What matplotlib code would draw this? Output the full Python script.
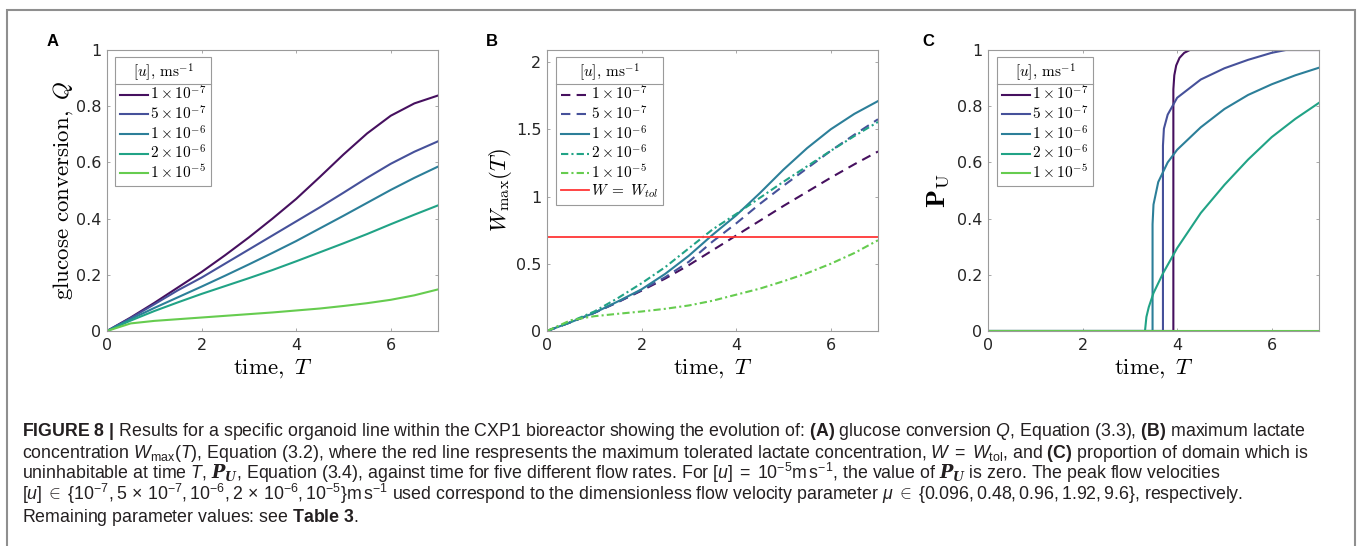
import matplotlib
matplotlib.use('Agg')
import matplotlib.pyplot as plt
from matplotlib.font_manager import FontProperties
from matplotlib.lines import Line2D
from matplotlib.patches import Rectangle
from matplotlib.ticker import FuncFormatter

# ---- data ----
time = [0, 0.5, 1, 1.5, 2, 2.5, 3, 3.5, 4, 4.5, 5, 5.5, 6, 6.5, 7]
flow_labels = [r'$1\times10^{-7}$', r'$5\times10^{-7}$', r'$1\times10^{-6}$',
               r'$2\times10^{-6}$', r'$1\times10^{-5}$']

# (A) glucose conversion Q
q_1e7 = [0, 0.048, 0.100, 0.155, 0.21, 0.27, 0.333, 0.40, 0.47, 0.548, 0.628, 0.703, 0.766, 0.81, 0.838]
q_5e7 = [0, 0.046, 0.095, 0.145, 0.19, 0.24, 0.29, 0.34, 0.39, 0.44, 0.492, 0.545, 0.595, 0.638, 0.675]
q_1e6 = [0, 0.042, 0.082, 0.12, 0.158, 0.197, 0.237, 0.278, 0.32, 0.365, 0.41, 0.456, 0.502, 0.545, 0.585]
q_2e6 = [0, 0.037, 0.071, 0.102, 0.132, 0.16, 0.188, 0.217, 0.248, 0.28, 0.312, 0.345, 0.38, 0.414, 0.447]
q_1e5 = [0, 0.027, 0.036, 0.042, 0.048, 0.054, 0.06, 0.066, 0.073, 0.08, 0.089, 0.099, 0.111, 0.127, 0.148]

# (B) maximum lactate concentration W_max
w_1e7 = [0, 0.065, 0.135, 0.215, 0.30, 0.39, 0.49, 0.60, 0.71, 0.82, 0.93, 1.035, 1.14, 1.24, 1.335]
w_5e7 = [0, 0.065, 0.135, 0.215, 0.305, 0.40, 0.515, 0.665, 0.80, 0.945, 1.08, 1.21, 1.34, 1.46, 1.575]
w_1e6 = [0, 0.065, 0.135, 0.22, 0.31, 0.425, 0.56, 0.715, 0.86, 1.025, 1.20, 1.36, 1.50, 1.615, 1.71]
w_2e6 = [0, 0.07, 0.145, 0.245, 0.355, 0.475, 0.615, 0.755, 0.87, 0.99, 1.11, 1.225, 1.34, 1.45, 1.555]
w_1e5 = [0, 0.08, 0.11, 0.128, 0.145, 0.165, 0.19, 0.225, 0.27, 0.315, 0.37, 0.43, 0.50, 0.58, 0.675]
w_tol = 0.7

# (C) proportion uninhabitable P_U (own time samples, steep onsets)
tc_1e7 = [0, 3.92, 3.92, 3.94, 3.98, 4.05, 4.15, 4.27, 7]
pu_1e7 = [0, 0, 0.86, 0.91, 0.945, 0.972, 0.99, 1, 1]
tc_5e7 = [0, 3.70, 3.70, 3.72, 3.8, 4.0, 4.5, 5.0, 5.5, 6.0, 6.3, 7]
pu_5e7 = [0, 0, 0.66, 0.72, 0.77, 0.83, 0.895, 0.935, 0.965, 0.99, 1, 1]
tc_1e6 = [0, 3.48, 3.48, 3.5, 3.6, 3.8, 4.0, 4.5, 5.0, 5.5, 6.0, 6.5, 7]
pu_1e6 = [0, 0, 0.38, 0.45, 0.53, 0.6, 0.645, 0.725, 0.79, 0.84, 0.878, 0.91, 0.937]
tc_2e6 = [0, 3.32, 3.35, 3.4, 3.5, 3.7, 4.0, 4.5, 5.0, 5.5, 6.0, 6.5, 7]
pu_2e6 = [0, 0, 0.05, 0.085, 0.135, 0.205, 0.295, 0.42, 0.52, 0.61, 0.69, 0.755, 0.812]
tc_1e5 = [0, 7]
pu_1e5 = [0, 0]

colors = ['#46105f', '#46519a', '#2c7f99', '#21a386', '#66cc4f']

caption = [
    r'$\mathbf{FIGURE\ 8\ |}$ Results for a specific organoid line within the CXP1 bioreactor showing the evolution of: '
    r'$\mathbf{(A)}$ glucose conversion $Q$, Equation (3.3), $\mathbf{(B)}$ maximum lactate',
    r'concentration $W_{\mathrm{max}}(T)$, Equation (3.2), where the red line respresents the maximum tolerated lactate '
    r'concentration, $W\;=\;W_{\mathrm{tol}}$, and $\mathbf{(C)}$ proportion of domain which is',
    r'uninhabitable at time $T$, $\mathbfit{P}_{\mathbfit{U}}$, Equation (3.4), against time for five different flow rates. '
    r'For $[u]\;=\;10^{-5}\mathrm{m\,s}^{-1}$, the value of $\mathbfit{P}_{\mathbfit{U}}$ is zero. The peak flow velocities',
    r'$[u]\;\in\;\{10^{-7}, 5\,\times\,10^{-7}, 10^{-6}, 2\,\times\,10^{-6}, 10^{-5}\}\mathrm{m\,s}^{-1}$ used correspond to the '
    r'dimensionless flow velocity parameter $\mu\;\in\;\{0.096, 0.48, 0.96, 1.92, 9.6\}$, respectively.',
    r'Remaining parameter values: see $\mathbf{Table\ 3}$.',
]

# ---- style ----
plt.rcParams['mathtext.fontset'] = 'cm'
plt.rcParams['mathtext.rm'] = 'Liberation Sans'
plt.rcParams['mathtext.it'] = 'Liberation Sans:italic'
plt.rcParams['mathtext.bf'] = 'Liberation Sans:bold'
plt.rcParams['mathtext.bfit'] = 'DejaVu Serif:italic:bold'

W, H = 1358, 546
fig = plt.figure(figsize=(W / 100, H / 100), dpi=100)

spine_col = '#9a9a9a'
tick_col = '#262626'
fmt = FuncFormatter(lambda v, p: '%g' % v)


def make_axes(left_px):
    ax = fig.add_axes([left_px / W, (H - 331) / H, 331 / W, 281 / H])
    for s in ax.spines.values():
        s.set_color(spine_col)
        s.set_linewidth(0.8)
    ax.tick_params(direction='in', length=2.5, width=0.6, color=spine_col,
                   top=True, right=True, labelsize=11.5, labelcolor=tick_col)
    ax.tick_params(axis='x', pad=5)
    ax.tick_params(axis='y', pad=4)
    ax.set_xlim(0, 7)
    ax.set_xticks([0, 2, 4, 6])
    ax.xaxis.set_major_formatter(fmt)
    ax.yaxis.set_major_formatter(fmt)
    ax.set_xlabel(r'$\mathrm{time},\ T$', fontsize=16.5, va='center')
    ax.xaxis.set_label_coords(0.5, -37 / 281)
    return ax


def make_legend(ax, dx_px):
    leg = ax.legend(loc='upper left', bbox_to_anchor=(dx_px / 331, 1 - 7 / 281),
                    borderaxespad=0, title=r'$[u],\,\mathrm{ms}^{-1}$',
                    prop=FontProperties(size=11), title_fontproperties=FontProperties(size=11),
                    fancybox=False, framealpha=1, edgecolor=spine_col,
                    handlelength=1.85, handletextpad=0.15, labelspacing=0.1,
                    borderpad=0.3)
    leg.get_frame().set_linewidth(0.8)
    return leg


lw = 1.5

# A
axA = make_axes(107)
for q, c, lab in zip([q_1e7, q_5e7, q_1e6, q_2e6, q_1e5], colors, flow_labels):
    axA.plot(time, q, color=c, lw=lw, label=lab)
axA.set_ylim(0, 1)
axA.set_yticks([0, 0.2, 0.4, 0.6, 0.8, 1])
axA.set_ylabel(r'$\mathrm{glucose\ conversion},\ Q$', fontsize=16.5, va='center')
axA.yaxis.set_label_coords(-44 / 331, 0.5)
legA = make_legend(axA, 8)

# B
axB = make_axes(547)
dashed = (0, (4.5, 3))
dashdot = (0, (3.5, 1.5, 1, 1.5))
styles = [dashed, dashed, '-', dashdot, dashdot]
for w, c, ls, lab in zip([w_1e7, w_5e7, w_1e6, w_2e6, w_1e5], colors, styles, flow_labels):
    axB.plot(time, w, color=c, lw=lw, ls=ls, label=lab)
axB.axhline(w_tol, color='#ff3636', lw=1.3, label=r'$W\;=\;W_{tol}$')
axB.set_ylim(0, 2.09)
axB.set_yticks([0, 0.5, 1, 1.5, 2])
axB.set_ylabel(r'$W_{\mathrm{max}}(T)$', fontsize=16.5, va='center')
axB.yaxis.set_label_coords(-47 / 331, 0.5)
legB = make_legend(axB, 9)

# C
axC = make_axes(988)
for t, p, c, lab in zip([tc_1e7, tc_5e7, tc_1e6, tc_2e6, tc_1e5],
                        [pu_1e7, pu_5e7, pu_1e6, pu_2e6, pu_1e5], colors, flow_labels):
    axC.plot(t, p, color=c, lw=lw, label=lab)
axC.set_ylim(0, 1)
axC.set_yticks([0, 0.2, 0.4, 0.6, 0.8, 1])
axC.set_ylabel(r'$\mathbf{P}_{\mathrm{U}}$', fontsize=19, va='center')
axC.yaxis.set_label_coords(-50 / 331, 0.5)
legC = make_legend(axC, 9)

# panel letters
for x, lab in [(53, 'A'), (492, 'B'), (928, 'C')]:
    fig.text(x / W, 1 - 41 / H, lab, fontsize=12, fontweight='bold',
             family='Liberation Sans', ha='center', va='center')

# outer frame of the figure panel (bottom edge runs off the image)
fig.add_artist(Rectangle((7 / W, -0.05), (1355 - 7) / W, 1.05 - 10 / H,
                         transform=fig.transFigure, fill=False,
                         edgecolor='#8f8f8f', lw=1.5))

# caption
for i, line in enumerate(caption):
    y = 436 + i * 21.5
    fig.text(22 / W, 1 - y / H, line, fontsize=12.8, family='Liberation Sans',
             color='#231f20', ha='left', va='baseline', math_fontfamily='custom')

# separator line between legend title and entries
fig.canvas.draw()
r = fig.canvas.get_renderer()
for leg in [legA, legB, legC]:
    fb = leg.get_frame().get_window_extent(r)
    tb = leg.get_title().get_window_extent(r)
    first = leg.get_texts()[0].get_window_extent(r)
    y = (tb.y0 + first.y1) / 2
    fig.add_artist(Line2D([fb.x0 / W, fb.x1 / W], [y / H, y / H],
                          transform=fig.transFigure, color=spine_col, lw=0.8))

fig.savefig('out.png', dpi=100)
